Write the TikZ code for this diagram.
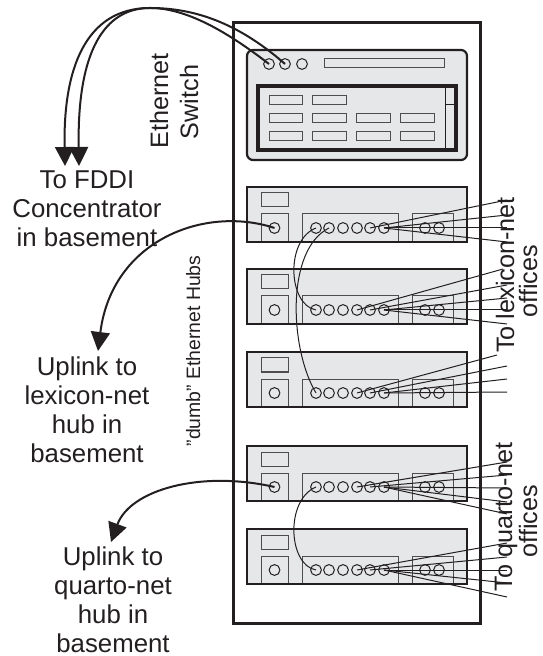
\documentclass[tikz,border=0pt]{standalone}
\usepackage{fontspec}
\setmainfont{Liberation Sans}
\usetikzlibrary{arrows.meta}
\definecolor{panel}{HTML}{E6E7E8}
\definecolor{ink}{HTML}{231F20}
\tikzset{
  hubbox/.style={draw=ink,line width=1.1pt,fill=panel},
  slot/.style={draw=ink!80,line width=0.5pt,fill=panel},
  port/.style={circle,draw=ink,line width=0.5pt,inner sep=0pt,minimum size=5.4pt},
  wire/.style={draw=ink,line width=0.5pt},
  uplink/.style={draw=ink,line width=1pt,-{Triangle[length=9.5pt,width=9.5pt]}},
  label/.style={text=ink,inner sep=0pt,align=center,font=\fontsize{12.9}{14.5}\selectfont},
  sidelabel/.style={text=ink,inner sep=0pt,rotate=90,anchor=base,font=\fontsize{12.6}{14.5}\selectfont},
}
\begin{document}
\begin{tikzpicture}[x=0.5pt,y=-0.5pt]
\useasboundingbox (0,0) rectangle (542,656);
\draw[draw=ink,line width=1.5pt] (233,23) rectangle (480,623);
% switch
\draw[hubbox,rounded corners=3pt] (247,50) rectangle (467,160);
\draw[slot] (324,59) rectangle (444,68);
\node[port] (sw1) at (269,64) {};
\node[port] (sw2) at (285,64) {};
\node[port] (sw3) at (302,64) {};
\draw[hubbox,line width=1.6pt] (258,86) rectangle (456,150);
\draw[wire] (445,86) -- (445,150);
\draw[wire] (445,105) -- (456,105);
\foreach \a/\b/\c in {269/302/96,312/346/96,269/302/114,312/346/114,356/390/114,400/434/114,269/302/132,312/346/132,356/390/132,400/434/132}
  \draw[slot] (\a,\c) rectangle (\b,\c+9);
% hubs
\foreach \h/\y in {1/187,2/269,3/352,4/446,5/529} {
  \begin{scope}[yshift=-\y*0.5pt]
  \draw[hubbox,draw=none] (247,0) rectangle (467,55);
  \draw[slot] (261,6) rectangle (288,20);
  \draw[slot] (261,27) rectangle (288,55);
  \draw[slot] (302,27) rectangle (398,55);
  \draw[slot] (412,27) rectangle (453,55);
  \node[port] (h\h-up) at (274.5,41) {};
  \foreach \p/\x in {1/316,2/329,3/343,4/357,5/370,6/384}
    \node[port] (h\h-p\p) at (\x,41) {};
  \node[port] (h\h-a) at (425,41) {};
  \node[port] (h\h-b) at (439,41) {};
  \draw[hubbox,fill=none] (247,0) rectangle (467,55);
  \end{scope}
}
% office lines
\foreach \h/\p/\ex/\ey in {1/5/507/200,1/6/507/215,1/6/507/228,1/6/507/242,
  2/4/503/269,2/5/507/285,2/6/507/298,2/6/507/310,2/6/507/324,
  3/4/497/355,3/5/507/366,3/6/507/379,3/6/507/392,
  4/4/507/462,4/5/507/475,4/6/507/488,4/6/507/502,4/6/507/514,
  5/4/507/543,5/5/507/557,5/6/507/570,5/6/507/583,5/6/507/597} {
  \coordinate (off\h-\ey) at (\ex,\ey);
  \draw[wire] (h\h-p\p.center) -- (off\h-\ey);
}
% jumpers
\draw[wire] (h1-p1.center) .. controls (285,240) and (288,305) .. (h2-p1.center);
\draw[wire] (h1-p2.center) .. controls (285,250) and (290,350) .. (h3-p1.center);
\draw[wire] (h4-p1.center) .. controls (285,500) and (288,565) .. (h5-p1.center);
% labels
\node[sidelabel] (ethernet) at (168,101) {Ethernet};
\node[sidelabel] (switch) at (198,102) {Switch};
\node[sidelabel,font=\fontsize{9.7}{11}\selectfont] (dumb) at (200,351) {"dumb" Ethernet Hubs};
\node[sidelabel] (tolex) at (514,275) {To lexicon-net};
\node[sidelabel] (lexoff) at (537,281) {offices};
\node[sidelabel] (toquarto) at (512,517) {To quarto-net};
\node[sidelabel] (quartooff) at (537,521) {offices};
\node[label] (fddi) at (87,209) {To FDDI\\Concentrator\\in basement};
\node[label] (lexup) at (87,410) {Uplink to\\lexicon-net\\hub in\\basement};
\node[label] (quartoup) at (113,600) {Uplink to\\quarto-net\\hub in\\basement};
% uplinks
\coordinate (fddia) at (65,166);
\coordinate (fddib) at (79,166);
\coordinate (lextip) at (98,351);
\coordinate (quartotip) at (111,542);
\draw[uplink] (sw2.center) .. controls (235,20) and (190,8) .. (150,8) .. controls (85,8) and (63,70) .. (fddia);
\draw[uplink] (sw1.center) .. controls (225,30) and (185,8) .. (150,8) .. controls (105,8) and (77,50) .. (fddib);
\draw[uplink] (h1-up.center) .. controls (205,205) and (112,240) .. (lextip);
\draw[uplink] (h4-up.center) .. controls (200,470) and (130,490) .. (quartotip);
\end{tikzpicture}
\end{document}
